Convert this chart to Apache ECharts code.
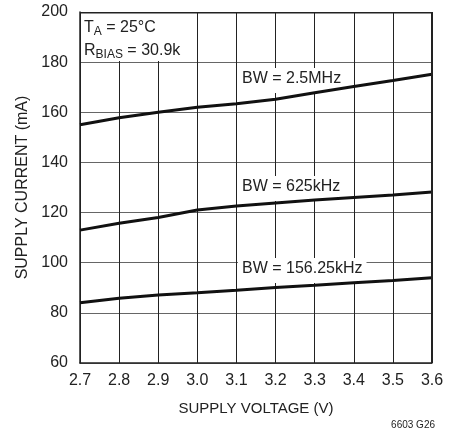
<!DOCTYPE html>
<html>
<head>
<meta charset="utf-8">
<script src="https://cdn.jsdelivr.net/npm/echarts@6/dist/echarts.min.js"></script>
<style>
html,body{margin:0;padding:0;background:#fff;}
#chart{width:461px;height:433px;}
</style>
</head>
<body>
<div id="chart"></div>
<script>
var voltages = [2.7, 2.8, 2.9, 3.0, 3.1, 3.2, 3.3, 3.4, 3.5, 3.6];
var bw2500k = [155, 157.8, 160, 162, 163.4, 165.2, 167.8, 170.3, 172.7, 175.2];
var bw625k = [113, 115.7, 118, 121, 122.6, 123.8, 125, 126, 127, 128.2];
var bw156k = [84, 85.8, 87.1, 88, 89, 90.1, 91, 92, 92.9, 94];
var seriesNames = ['BW = 2.5MHz', 'BW = 625kHz', 'BW = 156.25kHz'];
var xTitle = 'SUPPLY VOLTAGE (V)';
var yTitle = 'SUPPLY CURRENT (mA)';

var FONT = 'Liberation Sans';
function pairs(ys){ return voltages.map(function(v,i){ return [v, ys[i]]; }); }
function mkSeries(name, ys){
  return {
    name: name, type: 'line', data: pairs(ys), symbol: 'none', smooth: false,
    lineStyle: {color: '#111', width: 3}, z: 5, silent: true
  };
}
var chart = echarts.init(document.getElementById('chart'), null, {renderer: 'canvas'});
chart.setOption({
  animation: false,
  backgroundColor: '#fff',
  textStyle: {fontFamily: FONT},
  grid: {left: 80, top: 12, width: 352, height: 351, containLabel: false},
  xAxis: {
    type: 'value', min: 2.7, max: 3.6, interval: 0.1,
    name: xTitle, nameLocation: 'middle', nameGap: 38,
    nameTextStyle: {fontFamily: FONT, fontSize: 15, color: '#222'},
    axisLine: {show: true, lineStyle: {color: '#222', width: 1.5}},
    axisTick: {show: false},
    axisLabel: {fontFamily: FONT, fontSize: 16, color: '#222', margin: 10,
      formatter: function(v){ return v.toFixed(1); }},
    splitLine: {show: true, lineStyle: {color: '#222', width: 1}}
  },
  yAxis: {
    type: 'value', min: 60, max: 200, interval: 20,
    name: yTitle, nameLocation: 'middle', nameGap: 46,
    nameTextStyle: {fontFamily: FONT, fontSize: 16, color: '#222'},
    axisLine: {show: true, lineStyle: {color: '#222', width: 1.5}},
    axisTick: {show: false},
    axisLabel: {fontFamily: FONT, fontSize: 16, color: '#222', margin: 12},
    splitLine: {show: true, lineStyle: {color: '#666', width: 1}}
  },
  series: [mkSeries(seriesNames[0], bw2500k), mkSeries(seriesNames[1], bw625k), mkSeries(seriesNames[2], bw156k)],
  graphic: [
    {type: 'rect', left: 431, top: 12, shape: {width: 1.5, height: 351}, style: {fill: '#222'}, z: 10},
    {type: 'rect', left: 80, top: 12, shape: {width: 352, height: 1.5}, style: {fill: '#222'}, z: 10},
    {type: 'rect', left: 81, top: 13, shape: {width: 109, height: 48}, style: {fill: '#fff'}, z: 1},
    {type: 'text', left: 84, top: 20, z: 2, style: {
      text: '{m|T}{s|A}{m| = 25°C}', rich: {m: {fontFamily: FONT, fontSize: 16, fill: '#222'}, s: {fontFamily: FONT, fontSize: 12, fill: '#222', padding: [8,0,0,0]}}}},
    {type: 'text', left: 84, top: 43, z: 2, style: {
      text: '{m|R}{s|BIAS}{m| = 30.9k}', rich: {m: {fontFamily: FONT, fontSize: 16, fill: '#222'}, s: {fontFamily: FONT, fontSize: 12, fill: '#222', padding: [8,0,0,0]}}}},
    {type: 'text', left: 238, top: 68, z: 1, style: {text: seriesNames[0], font: '16px "' + FONT + '"', fill: '#222', backgroundColor: '#fff', padding: [3,4,6,4]}},
    {type: 'text', left: 238, top: 176, z: 1, style: {text: seriesNames[1], font: '16px "' + FONT + '"', fill: '#222', backgroundColor: '#fff', padding: [3,4,6,4]}},
    {type: 'text', left: 238, top: 258, z: 1, style: {text: seriesNames[2], font: '16px "' + FONT + '"', fill: '#222', backgroundColor: '#fff', padding: [3,4,6,4]}},
    {type: 'text', right: 26, top: 420, z: 2, style: {text: '6603 G26', font: '10px "' + FONT + '"', fill: '#222'}}
  ]
});
</script>
</body>
</html>
